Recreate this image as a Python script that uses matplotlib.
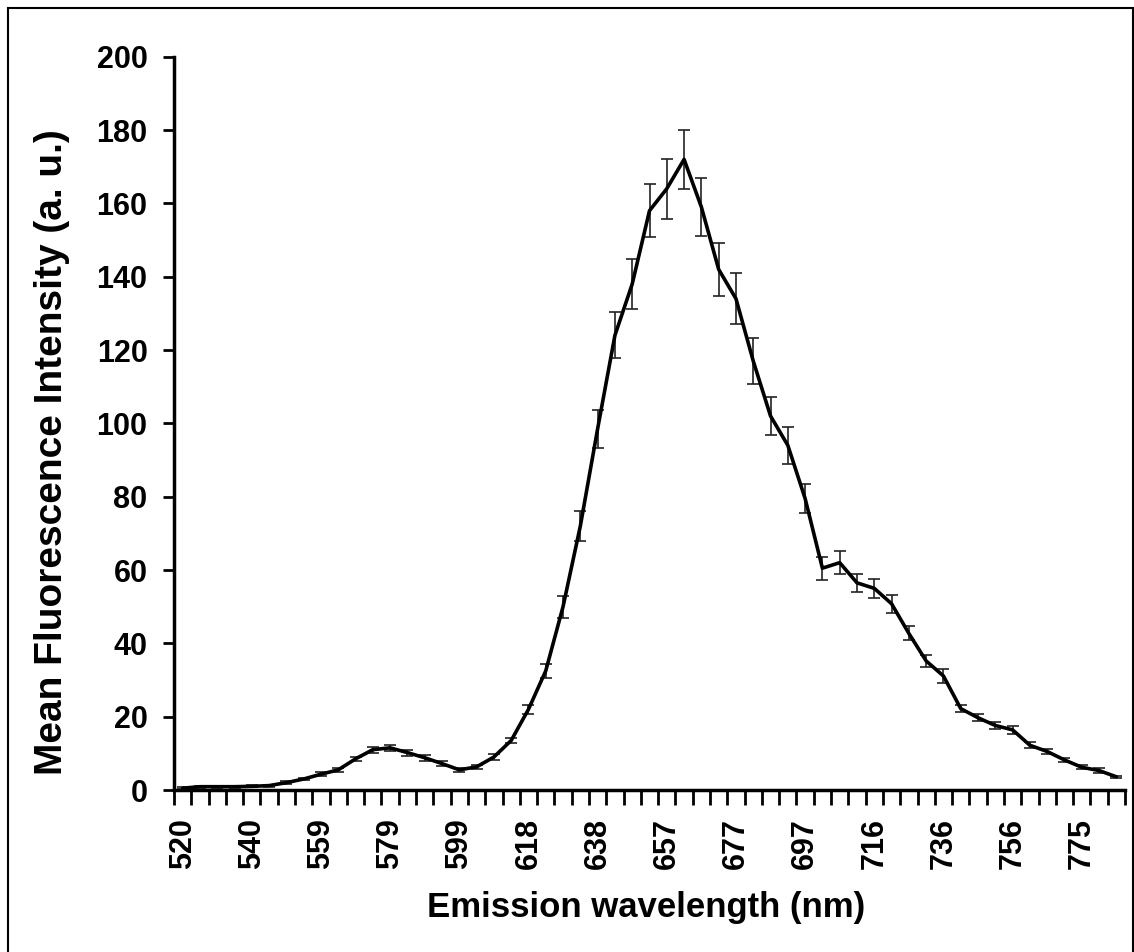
import numpy as np
import matplotlib
matplotlib.use('Agg')
import matplotlib.pyplot as plt
from matplotlib.patches import Rectangle

# emission wavelengths (nm), one per category on the axis
wavelengths = [520, 525, 530, 535, 540, 545, 549, 554, 559, 564,
               569, 574, 579, 584, 589, 594, 599, 603, 608, 613,
               618, 623, 628, 633, 638, 643, 648, 653, 657, 662,
               667, 672, 677, 682, 687, 692, 697, 702, 707, 711,
               716, 721, 726, 731, 736, 741, 746, 751, 756, 761,
               765, 770, 775, 780, 785]

# mean fluorescence intensity (a. u.)
intensity = [0.5, 0.9, 0.9, 0.9, 1.0, 1.2, 2.0, 3.0, 4.3, 5.5,
             8.5, 11.0, 11.5, 10.2, 8.8, 7.2, 5.5, 6.3, 9.0, 13.5,
             22.0, 32.5, 50.0, 72.0, 98.5, 124.0, 138.0, 158.0, 164.0, 172.0,
             159.0, 142.0, 134.0, 117.0, 102.0, 94.0, 79.5, 60.5, 62.0, 56.5,
             55.0, 50.8, 42.7, 35.2, 31.1, 22.2, 19.7, 17.6, 16.4, 12.2,
             10.5, 8.2, 6.2, 5.3, 3.6]

# standard error
err = [0.3, 0.3, 0.3, 0.3, 0.3, 0.3, 0.4, 0.4, 0.5, 0.5,
       0.6, 0.8, 0.9, 0.8, 0.8, 0.7, 0.6, 0.6, 0.7, 0.8,
       1.3, 2.0, 3.0, 4.0, 5.2, 6.3, 6.7, 7.3, 8.2, 8.1,
       7.8, 7.2, 7.0, 6.3, 5.2, 5.0, 4.0, 3.1, 3.2, 2.4,
       2.6, 2.4, 1.9, 1.6, 1.8, 1.0, 0.9, 0.9, 1.0, 0.8,
       0.7, 0.6, 0.6, 0.6, 0.3]

label_every = 4

plt.rcParams['font.family'] = ['Liberation Sans', 'DejaVu Sans']
plt.rcParams['font.weight'] = 'bold'

W, H = 1134, 952
fig = plt.figure(figsize=(W / 100, H / 100), dpi=100)
ax = fig.add_axes([174 / W, (H - 790) / H, (1125 - 174) / W, (790 - 56.7) / H])

x = np.arange(len(wavelengths))
ax.errorbar(x, intensity, yerr=err, fmt='none', ecolor='#222222',
            elinewidth=1.2, capsize=4.3, capthick=1.2, zorder=2)
ax.plot(x, intensity, color='black', lw=2.6, solid_joinstyle='round',
        solid_capstyle='round', zorder=3)

ax.set_xlim(-0.5, len(wavelengths) - 0.5)
ax.set_ylim(0, 200)
ax.set_yticks(np.arange(0, 201, 20))
ax.tick_params(axis='y', direction='out', length=8, width=2, pad=11, labelsize=22)

# category axis: ticks between categories, labels on every 4th category
ax.set_xticks(x[::label_every])
ax.set_xticklabels([str(w) for w in wavelengths[::label_every]], rotation=90)
ax.set_xticks(np.arange(-0.5, len(wavelengths)), minor=True)
ax.tick_params(axis='x', which='major', length=0, pad=20, labelsize=22)
ax.tick_params(axis='x', which='minor', direction='out', length=11, width=2)

for s in ['top', 'right']:
    ax.spines[s].set_visible(False)
ax.spines['left'].set_linewidth(2.5)
ax.spines['bottom'].set_linewidth(2.5)

fig.text(646 / W, 1 - 908 / H, 'Emission wavelength (nm)', ha='center', va='center',
         fontsize=25, fontweight='bold')
fig.text(52 / W, 1 - 452 / H, 'Mean Fluorescence Intensity (a. u.)', ha='center', va='center',
         rotation=90, fontsize=28, fontweight='bold')

# outer chart border
fig.patches.append(Rectangle((7.5 / W, -0.05), (1132.5 - 7.5) / W, 1 - 7.5 / H + 0.05,
                             transform=fig.transFigure, fill=False, ec='black', lw=1.5))

fig.savefig('out.png', dpi=100)
